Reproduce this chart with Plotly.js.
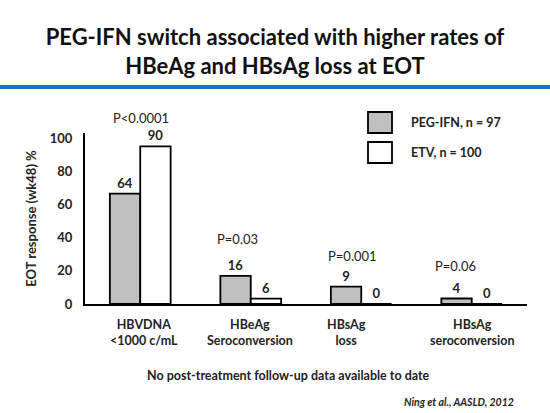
<!DOCTYPE html>
<html><head><meta charset="utf-8">
<script src="https://cdn.plot.ly/plotly-3.0.1.min.js"></script>
<style>html,body{margin:0;padding:0;background:#fff}#chart{width:550px;height:413px}</style>
</head><body><div id="chart"></div>
<script>
// ---- data ----
const categories = ["HBVDNA<br><1000 c/mL", "HBeAg<br>Seroconversion", "HBsAg<br>loss", "HBsAg<br>seroconversion"];
const pegName = "PEG-IFN, n = 97";
const etvName = "ETV, n = 100";
// bar heights as drawn in the reference
const pegValues = [66.5, 17, 10.5, 3.3];
const etvValues = [95, 3.2, 0, 0];
// printed value labels
const pegLabels = ["64", "16", "9", "4"];
const etvLabels = ["90", "6", "0", "0"];
const pValues = ["P<0.0001", "P=0.03", "P=0.001", "P=0.06"];
const yTicks = [0, 20, 40, 60, 80, 100];

// ---- layout geometry ----
const W = 550, H = 413;
const M = {l: 85, r: 23, t: 133, b: 109};
const PW = W - M.l - M.r, PH = H - M.t - M.b;
const px = x => (x - M.l) / PW;           // pixel x -> paper x
const py = y => (H - M.b - y) / PH;        // pixel y -> paper y
const FONT = "Lato, 'Open Sans', sans-serif";

const xIdx = categories.map((c, i) => i);

const traces = [
  {type: "bar", name: pegName, x: xIdx, y: pegValues, text: pegLabels,
   textposition: "outside", cliponaxis: false,
   textfont: {family: FONT, size: 13, color: "#222", weight: 700},
   marker: {color: "#C0C0C0", line: {color: "#000", width: 1.8}}},
  {type: "bar", name: etvName, x: xIdx, y: etvValues, text: etvLabels,
   textposition: "outside", cliponaxis: false,
   textfont: {family: FONT, size: 13, color: "#222", weight: 700},
   marker: {color: "#FFFFFF", line: {color: "#000", width: 1.8}}}
];

const annotations = [];
// p-value annotations (positions in layout only)
const pPos = [{x: 0, dx: 1, y: 118}, {x: 1, dx: -13, y: 239}, {x: 2, dx: -9, y: 256}, {x: 3, dx: -16, y: 266}];
pValues.forEach((t, i) => annotations.push({
  text: t, xref: "x", x: pPos[i].x, xshift: pPos[i].dx, yref: "paper", y: py(pPos[i].y),
  showarrow: false, xanchor: "center", yanchor: "middle",
  font: {family: FONT, size: 13, color: "#222"}
}));
// category labels
const cShift = [4, -1, -15, 0];
categories.forEach((c, i) => annotations.push({
  text: c, xref: "x", x: i, xshift: cShift[i], yref: "paper", y: py(315),
  showarrow: false, xanchor: "center", yanchor: "top",
  font: {family: FONT, size: 12.5, color: "#222", weight: 700}
}));
// legend text
annotations.push({text: pegName, xref: "paper", yref: "paper", x: px(409), y: py(122.5), xanchor: "left", yanchor: "middle",
  showarrow: false, font: {family: FONT, size: 12.5, color: "#222", weight: 700}});
annotations.push({text: etvName, xref: "paper", yref: "paper", x: px(409), y: py(152.5), xanchor: "left", yanchor: "middle",
  showarrow: false, font: {family: FONT, size: 12.5, color: "#222", weight: 700}});
// footnotes
annotations.push({text: "No post-treatment follow-up data available to date", xref: "paper", yref: "paper",
  x: px(288), y: py(375), xanchor: "center", yanchor: "middle", showarrow: false,
  font: {family: FONT, size: 12.5, color: "#222", weight: 700}});
annotations.push({text: "<i>Ning et al., AASLD, 2012</i>", xref: "paper", yref: "paper",
  x: px(516), y: py(402), xanchor: "right", yanchor: "middle", showarrow: false,
  font: {family: FONT, size: 10.5, color: "#222", weight: 700}});

const shapes = [
  // blue rule under title
  {type: "line", xref: "paper", yref: "paper", x0: px(0), x1: px(W), y0: py(87), y1: py(87),
   line: {color: "#1B6EC2", width: 4}},
  // legend boxes
  {type: "rect", xref: "paper", yref: "paper", x0: px(368), x1: px(392), y0: py(133), y1: py(112),
   fillcolor: "#C0C0C0", line: {color: "#000", width: 1.8}},
  {type: "rect", xref: "paper", yref: "paper", x0: px(368), x1: px(392), y0: py(163), y1: py(142),
   fillcolor: "#FFFFFF", line: {color: "#000", width: 1.8}}
];

const layout = {
  width: W, height: H, margin: M,
  paper_bgcolor: "#fff", plot_bgcolor: "#fff",
  font: {family: FONT, color: "#222"},
  title: {text: "PEG-IFN switch associated with higher rates of<br>HBeAg and HBsAg loss at EOT",
    font: {family: FONT, size: 22, color: "#111", weight: 700},
    x: 0.5, xref: "container", xanchor: "center", y: 1 - 45 / H, yref: "container", yanchor: "top"},
  showlegend: false,
  barmode: "group", bargap: 0.45, bargroupgap: 0,
  xaxis: {range: [-0.5, 3.5], showticklabels: false, ticks: "", showgrid: false, zeroline: false,
    showline: true, linecolor: "#000", linewidth: 2, fixedrange: true},
  yaxis: {range: [0, 103], tickvals: yTicks, ticks: "", showgrid: false, zeroline: false,
    showline: true, linecolor: "#000", linewidth: 2, ticklabelstandoff: 8,
    tickfont: {family: FONT, size: 13, color: "#222", weight: 700},
    title: {text: "EOT response (wk48) %", standoff: 10,
      font: {family: FONT, size: 13, color: "#222", weight: 700}}},
  annotations: annotations, shapes: shapes
};

Plotly.newPlot("chart", traces, layout, {displayModeBar: false, staticPlot: true});
</script></body></html>
